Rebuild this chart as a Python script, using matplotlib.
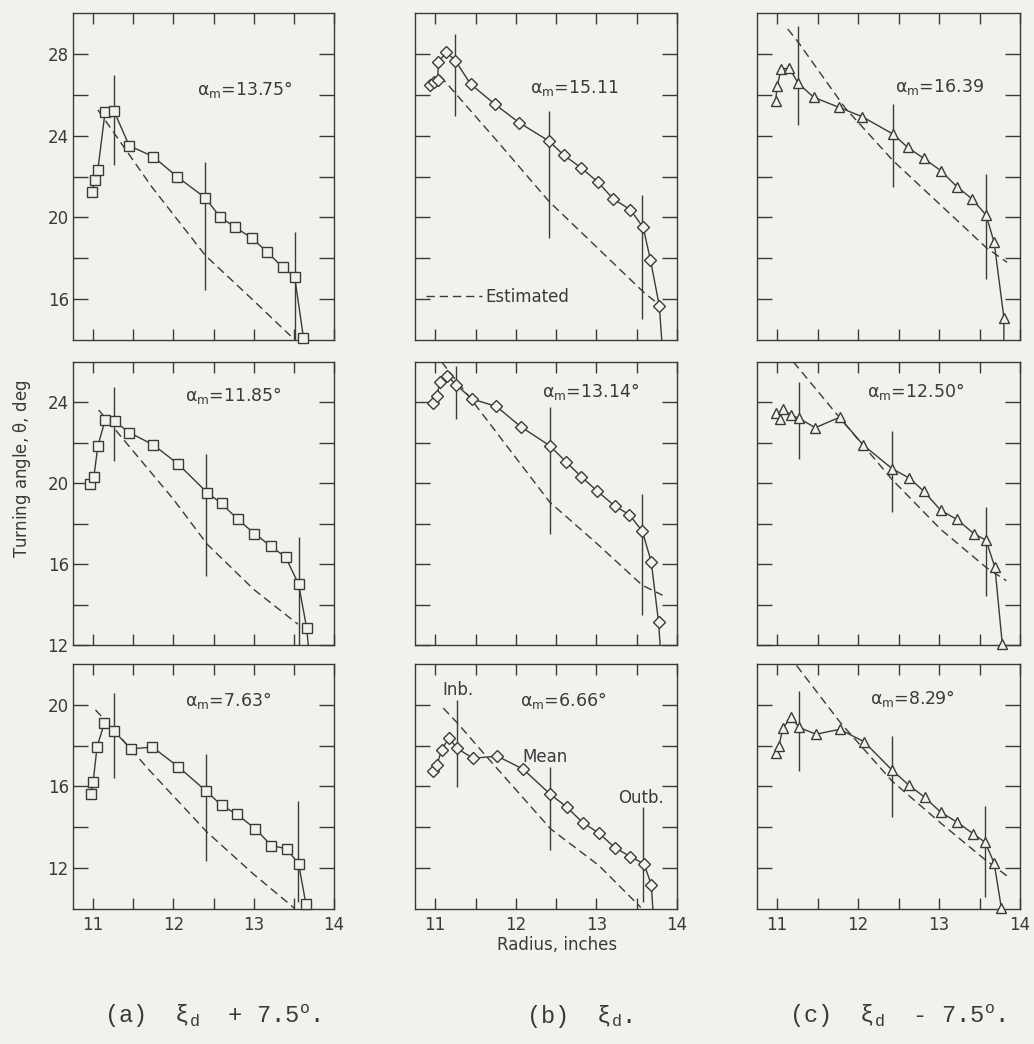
import matplotlib.pyplot as plt
import numpy as np

paper = '#f1f1ee'
ink = '#3a3a3a'

plt.rcParams['font.family'] = 'DejaVu Sans'
plt.rcParams['mathtext.fontset'] = 'custom'
plt.rcParams['mathtext.rm'] = 'Liberation Mono'
plt.rcParams['mathtext.it'] = 'Liberation Mono'

# ---- data (radius in inches, turning angle in deg) ----
# column (a): squares, row 1..3
r_a1 = [10.99, 11.02, 11.06, 11.15, 11.26, 11.45, 11.75, 12.05, 12.40, 12.58, 12.77, 12.98, 13.17, 13.36, 13.51, 13.62]
t_a1 = [21.25, 21.85, 22.34, 25.18, 25.21, 23.51, 22.97, 21.98, 20.95, 20.02, 19.52, 18.98, 18.30, 17.56, 17.10, 14.11]
r_a2 = [10.96, 11.01, 11.06, 11.15, 11.27, 11.45, 11.75, 12.06, 12.42, 12.60, 12.80, 13.01, 13.21, 13.40, 13.56, 13.66]
t_a2 = [19.96, 20.32, 21.85, 23.13, 23.06, 22.51, 21.90, 20.95, 19.54, 19.00, 18.22, 17.51, 16.90, 16.33, 15.00, 12.83]
r_a3 = [10.97, 11.00, 11.05, 11.14, 11.26, 11.47, 11.74, 12.06, 12.41, 12.60, 12.79, 13.02, 13.22, 13.41, 13.56, 13.65]
t_a3 = [15.64, 16.20, 17.95, 19.10, 18.72, 17.84, 17.93, 16.97, 15.77, 15.08, 14.64, 13.93, 13.11, 12.95, 12.21, 10.25]

# column (b): diamonds
r_b1 = [10.93, 10.98, 11.03, 11.04, 11.14, 11.25, 11.44, 11.74, 12.04, 12.41, 12.60, 12.81, 13.02, 13.21, 13.42, 13.58, 13.67, 13.78]
t_b1 = [26.49, 26.61, 26.72, 27.62, 28.08, 27.67, 26.52, 25.54, 24.64, 23.74, 23.03, 22.43, 21.72, 20.90, 20.38, 19.51, 17.92, 15.67]
r_b2 = [10.97, 11.02, 11.06, 11.15, 11.26, 11.46, 11.76, 12.06, 12.42, 12.62, 12.81, 13.01, 13.23, 13.41, 13.57, 13.68, 13.77]
t_b2 = [23.97, 24.33, 25.02, 25.32, 24.87, 24.16, 23.80, 22.80, 21.86, 21.07, 20.33, 19.61, 18.87, 18.44, 17.62, 16.11, 13.14]
r_b3 = [10.97, 11.02, 11.08, 11.17, 11.27, 11.47, 11.77, 12.09, 12.43, 12.63, 12.83, 13.03, 13.23, 13.42, 13.59, 13.68]
t_b3 = [16.77, 17.05, 17.79, 18.39, 17.87, 17.38, 17.49, 16.85, 15.61, 15.00, 14.23, 13.72, 13.00, 12.57, 12.21, 11.20]

# column (c): triangles
r_c1 = [10.98, 11.00, 11.05, 11.15, 11.26, 11.45, 11.76, 12.05, 12.43, 12.61, 12.81, 13.02, 13.22, 13.41, 13.58, 13.68, 13.80]
t_c1 = [25.71, 26.45, 27.27, 27.30, 26.56, 25.88, 25.39, 24.93, 24.08, 23.43, 22.89, 22.29, 21.50, 20.90, 20.11, 18.78, 15.10]
r_c2 = [10.99, 11.03, 11.07, 11.17, 11.27, 11.47, 11.77, 12.06, 12.42, 12.63, 12.81, 13.02, 13.22, 13.43, 13.58, 13.69, 13.78]
t_c2 = [23.46, 23.16, 23.66, 23.38, 23.21, 22.75, 23.26, 21.90, 20.72, 20.26, 19.61, 18.66, 18.21, 17.51, 17.18, 15.84, 12.07]
r_c3 = [10.98, 11.02, 11.07, 11.17, 11.27, 11.48, 11.77, 12.07, 12.42, 12.63, 12.82, 13.02, 13.22, 13.42, 13.57, 13.68, 13.77]
t_c3 = [17.62, 17.98, 18.85, 19.41, 18.89, 18.56, 18.80, 18.20, 16.80, 16.05, 15.48, 14.74, 14.26, 13.69, 13.26, 12.25, 10.03]

# where the faired curve runs off the frame after the last point
end_a1, end_a2, end_a3 = None, (13.68, 12.0), (13.67, 10.0)
end_b1, end_b2, end_b3 = (13.81, 14.0), (13.79, 12.0), (13.70, 10.0)
end_c1, end_c2, end_c3 = (13.80, 14.0), (13.79, 12.0), None

# estimated (dashed) curves
est_r_a1 = [11.06, 11.73, 12.40, 12.98, 13.46]
est_t_a1 = [25.26, 21.50, 18.13, 16.00, 14.20]
est_r_a2 = [11.07, 11.27, 12.00, 12.42, 13.00, 13.55]
est_t_a2 = [23.62, 22.68, 19.21, 16.99, 14.75, 13.03]
est_r_a3 = [11.03, 11.26, 11.70, 12.41, 13.00, 13.51]
est_t_a3 = [19.75, 18.77, 16.80, 13.80, 11.70, 10.03]
est_r_b1 = [11.06, 11.75, 12.41, 13.58, 13.81]
est_t_b1 = [26.93, 23.82, 20.79, 16.36, 15.62]
est_r_b2 = [11.08, 11.46, 12.42, 13.01, 13.57, 13.82]
est_t_b2 = [26.00, 24.08, 19.07, 17.00, 14.95, 14.46]
est_r_b3 = [11.10, 11.27, 11.62, 12.43, 13.03, 13.55]
est_t_b3 = [19.84, 19.13, 17.54, 13.93, 12.13, 10.08]
est_r_c1 = [11.13, 11.26, 11.84, 12.43, 13.58, 13.84]
est_t_c1 = [29.22, 28.57, 25.35, 22.78, 18.53, 17.80]
est_r_c2 = [11.20, 11.77, 12.42, 13.02, 13.58, 13.83]
est_t_c2 = [26.00, 23.25, 20.18, 17.72, 15.84, 15.18]
est_r_c3 = [11.24, 11.78, 12.42, 13.02, 13.57, 13.85]
est_t_c3 = [21.92, 19.13, 16.26, 14.21, 12.41, 11.59]

# inboard / mean / outboard station lines: radius, lower and upper angle
stn_r_a1, stn_lo_a1, stn_hi_a1 = [11.26, 12.40, 13.51], [22.56, 16.44, 14.0], [26.98, 22.72, 19.28]
stn_r_a2, stn_lo_a2, stn_hi_a2 = [11.26, 12.41, 13.56], [21.11, 15.42, 12.0], [24.74, 21.44, 17.32]
stn_r_a3, stn_lo_a3, stn_hi_a3 = [11.26, 12.41, 13.555], [16.40, 12.33, 10.33], [20.57, 17.60, 15.28]
stn_r_b1, stn_lo_b1, stn_hi_b1 = [11.25, 12.41, 13.57], [24.97, 18.98, 15.05], [28.98, 25.21, 21.11]
stn_r_b2, stn_lo_b2, stn_hi_b2 = [11.26, 12.42, 13.57], [23.18, 17.50, 13.47], [25.81, 23.75, 19.48]
stn_r_b3, stn_lo_b3, stn_hi_b3 = [11.27, 12.43, 13.58], [15.98, 12.87, 10.33], [20.25, 16.97, 15.00]
stn_r_c1, stn_lo_c1, stn_hi_c1 = [11.26, 12.43, 13.58], [24.52, 21.50, 17.01], [29.39, 25.55, 22.12]
stn_r_c2, stn_lo_c2, stn_hi_c2 = [11.27, 12.42, 13.58], [21.20, 18.57, 14.44], [25.02, 22.56, 18.84]
stn_r_c3, stn_lo_c3, stn_hi_c3 = [11.27, 12.42, 13.57], [16.75, 14.49, 10.61], [20.69, 18.48, 15.03]

alpha_m = [['13.75°', '15.11', '16.39'],
           ['11.85°', '13.14°', '12.50°'],
           ['7.63°', '6.66°', '8.29°']]
ylims = [(14, 30), (12, 26), (10, 22)]
x_ticks = [11, 11.5, 12, 12.5, 13, 13.5, 14]
captions = [r'(a)  $\xi_{\mathrm{d}}$  + 7.5$^{\mathrm{o}}$.', r'(b)  $\xi_{\mathrm{d}}$.',
            r'(c)  $\xi_{\mathrm{d}}$  - 7.5$^{\mathrm{o}}$.']

# ---- layout ----
col_x = [0.0706, 0.4014, 0.7321]
col_w = [0.2524, 0.2534, 0.2544]
row_y = [0.6743, 0.3822, 0.1293]
row_h = [0.3132, 0.2711, 0.2347]
label_xy = [[(0.475, 0.765), (0.439, 0.770), (0.525, 0.774)],
            [(0.429, 0.883), (0.485, 0.894), (0.418, 0.894)],
            [(0.429, 0.853), (0.400, 0.853), (0.430, 0.860)]]
caption_x = [0.101, 0.509, 0.763]

panels = [
    [(r_a1, t_a1, end_a1, est_r_a1, est_t_a1, stn_r_a1, stn_lo_a1, stn_hi_a1),
     (r_b1, t_b1, end_b1, est_r_b1, est_t_b1, stn_r_b1, stn_lo_b1, stn_hi_b1),
     (r_c1, t_c1, end_c1, est_r_c1, est_t_c1, stn_r_c1, stn_lo_c1, stn_hi_c1)],
    [(r_a2, t_a2, end_a2, est_r_a2, est_t_a2, stn_r_a2, stn_lo_a2, stn_hi_a2),
     (r_b2, t_b2, end_b2, est_r_b2, est_t_b2, stn_r_b2, stn_lo_b2, stn_hi_b2),
     (r_c2, t_c2, end_c2, est_r_c2, est_t_c2, stn_r_c2, stn_lo_c2, stn_hi_c2)],
    [(r_a3, t_a3, end_a3, est_r_a3, est_t_a3, stn_r_a3, stn_lo_a3, stn_hi_a3),
     (r_b3, t_b3, end_b3, est_r_b3, est_t_b3, stn_r_b3, stn_lo_b3, stn_hi_b3),
     (r_c3, t_c3, end_c3, est_r_c3, est_t_c3, stn_r_c3, stn_lo_c3, stn_hi_c3)],
]
markers = [('s', 6.8), ('D', 6.4), ('^', 7.8)]

fig = plt.figure(figsize=(10.34, 10.44), dpi=100, facecolor=paper)

for i in range(3):
    lo, hi = ylims[i]
    yt = list(range(lo + 2, hi, 2))
    for j in range(3):
        r, t, end, er, et, sr, slo, shi = panels[i][j]
        ax = fig.add_axes([col_x[j], row_y[i], col_w[j], row_h[i]])
        ax.set_facecolor(paper)
        ax.set_xlim(10.75, 14.0)
        ax.set_ylim(lo, hi)

        # faired curve through the points
        cr = list(r) + ([end[0]] if end else [])
        ct = list(t) + ([end[1]] if end else [])
        ax.plot(cr, ct, color=ink, lw=1.0, zorder=3)
        est, = ax.plot(er, et, color=ink, lw=1.0, dashes=(6, 3.5), zorder=2)
        ax.vlines(sr, slo, shi, color=ink, lw=1.0, zorder=2)
        m, ms = markers[j]
        ax.plot(r, t, ls='none', marker=m, ms=ms, mfc=paper, mec=ink, mew=1.0,
                zorder=4, clip_on=False)

        lx, ly = label_xy[i][j]
        ax.text(lx, ly, r'$\mathrm{\alpha}_{\mathrm{m}}$=' + alpha_m[i][j], transform=ax.transAxes,
                fontsize=12.5, color=ink, va='center', ha='left', math_fontfamily='dejavusans')

        ax.set_xticks(x_ticks)
        ax.set_yticks([v for v in yt] + ([lo] if lo % 4 == 0 else []))
        ax.tick_params(axis='both', which='both', direction='in', top=True, right=True,
                       color=ink, labelcolor=ink, labelsize=12, width=1.0)
        ax.tick_params(axis='y', length=10.5, pad=3)
        ax.tick_params(axis='x', length=8, pad=5)
        if i == 2:
            ax.set_xticklabels(['11', '', '12', '', '13', '', '14'])
        else:
            ax.set_xticklabels([])
        if j == 0:
            ax.set_yticklabels([str(v) if v % 4 == 0 else '' for v in ax.get_yticks()])
        else:
            ax.set_yticklabels([])
        for s in ax.spines.values():
            s.set_color(ink)
            s.set_linewidth(1.0)

        if i == 0 and j == 1:
            ax.legend([est], ['Estimated'], loc='center left', bbox_to_anchor=(0.04, 0.131),
                      frameon=False, fontsize=12, handlelength=3.4, handletextpad=0.2,
                      borderpad=0, borderaxespad=0, labelcolor=ink)
        if i == 2 and j == 1:
            for txt, px, py in [('Inb.', 0.164, 0.894), ('Mean', 0.496, 0.62), ('Outb.', 0.863, 0.453)]:
                ax.text(px, py, txt, transform=ax.transAxes, fontsize=12, color=ink,
                        ha='center', va='center')

fig.text(0.021, 1 - 469 / 1044, r'Turning angle, $\mathrm{\theta}$, deg', rotation=90, fontsize=12,
         color=ink, ha='center', va='center', math_fontfamily='dejavusans')
fig.text(557 / 1034, 1 - 945 / 1044, 'Radius, inches', fontsize=12, color=ink,
         ha='center', va='center')
for k in range(3):
    fig.text(caption_x[k], 1 - 1016 / 1044, captions[k], fontsize=17, color=ink,
             family='Liberation Mono', ha='left', va='center', math_fontfamily='custom')

fig.savefig('out.png', dpi=100, facecolor=paper)
